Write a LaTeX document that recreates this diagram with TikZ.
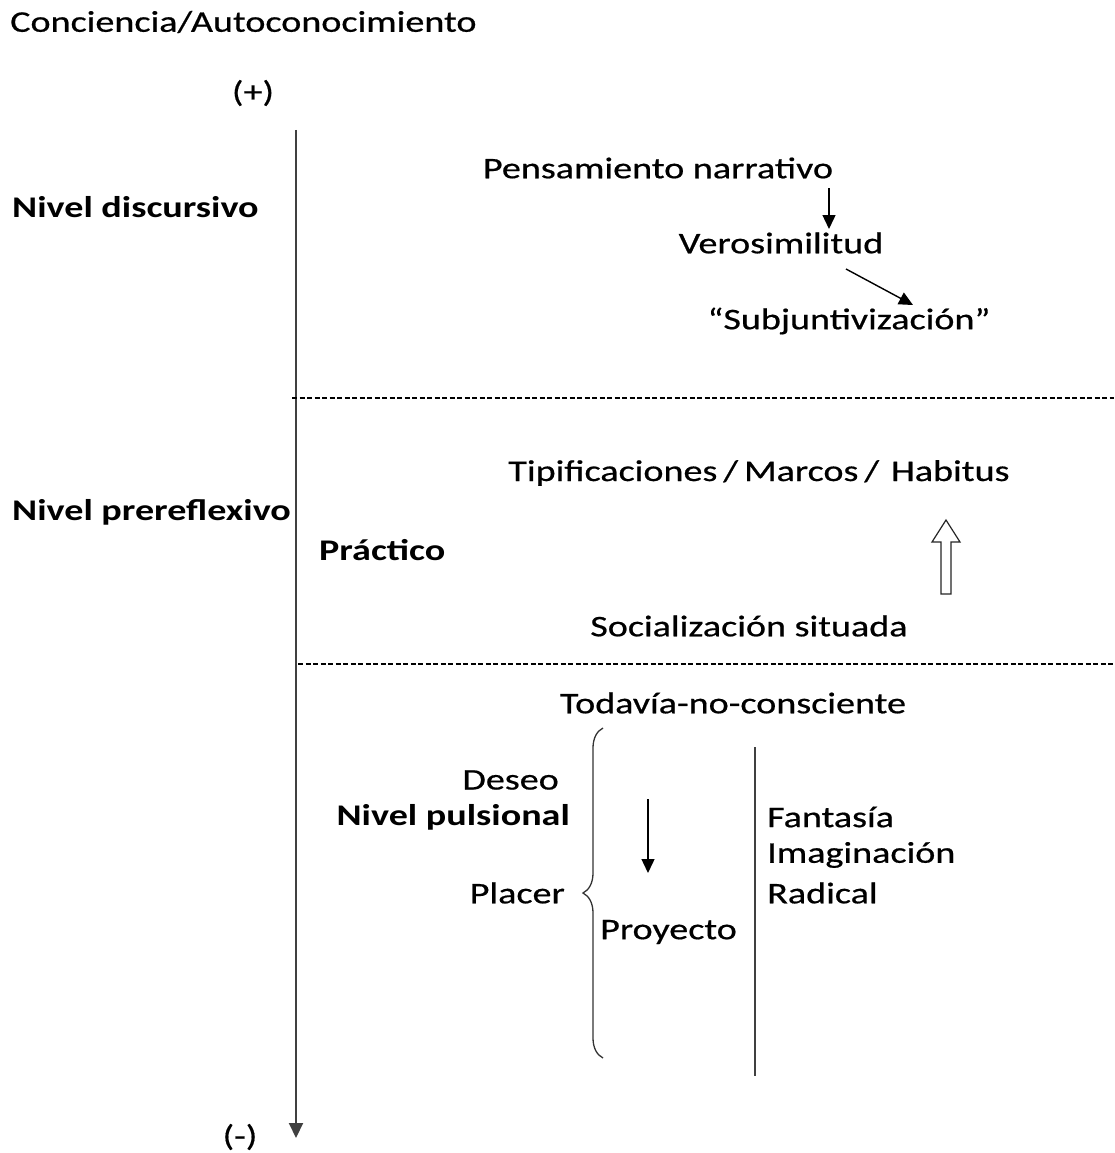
\documentclass[tikz,border=0pt]{standalone}
\usepackage{fontspec}
\setmainfont{Carlito}[FakeStretch=1.27,UprightFeatures={FakeBold=0.6}]
\usetikzlibrary{arrows.meta,decorations.pathreplacing}
\begin{document}
\begin{tikzpicture}[x=1pt,y=-1pt,
  txt/.style={inner sep=0pt,font=\fontsize{30}{35}\selectfont},
  lbl/.style={txt,anchor=west},
  bld/.style={txt,anchor=west,font=\fontsize{30}{35}\selectfont\bfseries},
  arr/.style={line width=1.4pt,-{Triangle[length=14pt,width=13pt]}},
  dash line/.style={line width=1.5pt,dash pattern=on 5pt off 2.5pt},
  vline/.style={line width=2pt,draw=black!75}]
\useasboundingbox (0,0) rectangle (1114,1153);
% header
\node[lbl] (title) at (10,22) {Conciencia/Autoconocimiento};
\node[txt] (plus) at (253,93) {(+)};
\node[txt] (minus) at (240,1137) {(-)};
% axis
\coordinate (axtop) at (296,130);
\coordinate (axbot) at (296,1138);
\draw[vline,-{Triangle[length=15pt,width=14pt]}] (axtop) -- (axbot);
% level labels
\node[bld] (disc) at (12,207) {Nivel discursivo};
\node[bld] (prer) at (12,512) {Nivel prereflexivo};
\node[bld] (prac) at (319,550) {Práctico};
\node[bld,anchor=east] (puls) at (570,817) {Nivel pulsional};
% discursive level
\node[txt] (pens) at (658,168) {Pensamiento narrativo};
\node[txt] (vero) at (781,243) {Verosimilitud};
\node[txt] (subj) at (849,321) {“Subjuntivización”};
\coordinate (a1s) at (829,188);
\coordinate (a1e) at (829,229);
\draw[arr] (a1s) -- (a1e);
\coordinate (a2s) at (846,269);
\coordinate (a2e) at (913,305);
\draw[arr] (a2s) -- (a2e);
% dashed separators
\coordinate (d1l) at (292,398);
\coordinate (d1r) at (1114,398);
\draw[dash line] (d1l) -- (d1r);
\coordinate (d2l) at (298,664);
\coordinate (d2r) at (1114,664);
\draw[dash line] (d2l) -- (d2r);
% prereflexive level
\node[txt] (tipi) at (759,473) {Tipificaciones\hspace{0.2em}/\hspace{0.2em}Marcos\hspace{0.2em}/\hspace{0.4em}Habitus};
\node[txt] (soci) at (749,626) {Socialización situada};
\draw[line width=1.2pt,draw=black!85,fill=white]
  (941,594) -- (951,594) -- (951,542) -- (960,542) -- (946,520)
  -- (932,542) -- (941,542) -- cycle;
% pulsional level
\node[txt] (toda) at (733,703) {Todavía-no-consciente};
\node[txt,anchor=east] (dese) at (559,780) {Deseo};
\node[txt,anchor=east] (plac) at (565,893) {Placer};
\draw[line width=1.3pt,draw=black!80,decorate,decoration={brace,amplitude=20pt,aspect=0.5}]
  (603,1058) -- (603,728);
\coordinate (a3s) at (648,799);
\coordinate (a3e) at (648,873);
\draw[arr] (a3s) -- (a3e);
\node[lbl] (proy) at (600,932) {Proyecto};
\coordinate (v2t) at (755,747);
\coordinate (v2b) at (755,1076);
\draw[vline] (v2t) -- (v2b);
\node[lbl] (fant) at (767,817) {Fantasía};
\node[lbl] (imag) at (767,855) {Imaginación};
\node[lbl] (radi) at (767,893) {Radical};
\end{tikzpicture}
\end{document}
